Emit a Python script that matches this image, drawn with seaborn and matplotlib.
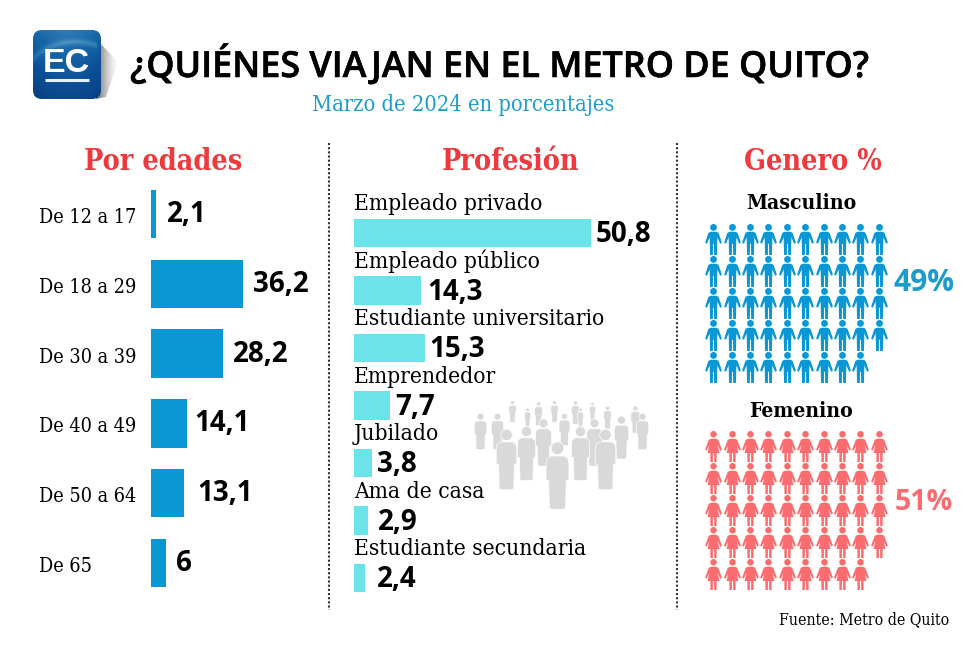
"""
Quienes viajan en el Metro de Quito - El Comercio infographic
"""

import numpy as np
import pandas as pd
import matplotlib
matplotlib.use("Agg")
import matplotlib.pyplot as plt
import matplotlib.patheffects as pe
from matplotlib.colors import LinearSegmentedColormap
from matplotlib.path import Path
from matplotlib.patches import FancyBboxPatch, Polygon
import seaborn as sns

W, H = 970, 645

age_labels = ["De 12 a 17", "De 18 a 29", "De 30 a 39", "De 40 a 49", "De 50 a 64", "De 65"]
age_values = [2.1, 36.2, 28.2, 14.1, 13.1, 6]
age_text = ["2,1", "36,2", "28,2", "14,1", "13,1", "6"]

job_labels = ["Empleado privado", "Empleado público", "Estudiante universitario",
              "Emprendedor", "Jubilado", "Ama de casa", "Estudiante secundaria"]
job_values = [50.8, 14.3, 15.3, 7.7, 3.8, 2.9, 2.4]
job_text = ["50,8", "14,3", "15,3", "7,7", "3,8", "2,9", "2,4"]

icon_rows_men = [10, 10, 10, 10, 9]
icon_rows_women = [10, 10, 10, 10, 9]

BLUE = "#0a97d3"
CYAN = "#6be3e8"
RED = "#ee3a3f"
PINK = "#fb6c70"
SUB = "#1b9ccb"
SLAB = "DejaVu Serif"
SANS = "Open Sans"

# gap between bar end and value, in px
age_gap = [11, 10, 10, 7, 13, 10]
job_gap = [5, 7, 4, 5, 5, 10, 12]


def px_axes(fig, x0, y0, x1, y1):
    """axes from pixel box, y measured from the top"""
    return fig.add_axes([x0 / W, 1 - y1 / H, (x1 - x0) / W, (y1 - y0) / H])


def man_marker():
    head = Path.circle((0, 0.78), 0.22)
    right = [(0.2, 0.5), (0.33, 0.42), (0.54, -0.2), (0.43, -0.28), (0.25, 0.14),
             (0.22, -1), (0.04, -1), (0.03, -0.28)]
    left = [(-x, y) for x, y in right[::-1]]
    return Path.make_compound_path(head, Path(right + left + [right[0]], closed=True))


def woman_marker():
    head = Path.circle((0, 0.79), 0.21)
    right = [(0.16, 0.5), (0.3, 0.44), (0.54, -0.2), (0.44, -0.28), (0.27, 0.1),
             (0.38, -0.42), (0.2, -0.42), (0.2, -1), (0.04, -1), (0.04, -0.42)]
    left = [(-x, y) for x, y in right[::-1]]
    return Path.make_compound_path(head, Path(right + left + [right[0]], closed=True))


def crowd_marker():
    head = Path.circle((0, 0.81), 0.19)
    right = [(0.2, 0.58), (0.31, 0.5), (0.34, 0.35), (0.34, -0.15), (0.26, -0.15), (0.24, -0.98), (0.15, -1), (0, -1)]
    left = [(-x, y) for x, y in right[::-1]]
    return Path.make_compound_path(head, Path(right + left + [right[0]], closed=True))


def clean(ax):
    ax.set_axis_off()
    ax.patch.set_alpha(0)


def waffle(fig, rows, top, marker, color):
    df = pd.DataFrame([(c, r) for r, n in enumerate(rows) for c in range(n)], columns=["col", "row"])
    ax = px_axes(fig, 704, top - 16, 888, top + 32 * 5 - 16)
    sns.scatterplot(data=df, x="col", y="row", marker=marker, s=(31 * 0.72) ** 2, color=color,
                    linewidth=0, ax=ax, legend=False)
    ax.set_xlim(-0.5, 9.5)
    ax.set_ylim(4.5, -0.5)
    clean(ax)


sns.set_theme(style="white")
plt.rcParams["font.family"] = [SANS, "DejaVu Sans"]

fig = plt.figure(figsize=(W / 100, H / 100), dpi=100, facecolor="white")

# overlay in pixel coordinates for logo, rules, crowd
bg = fig.add_axes([0, 0, 1, 1])
clean(bg)

# logo shadow, fades to the right
shadow_cmap = LinearSegmentedColormap.from_list("sh", [(0.4, 0.4, 0.4, 0.95), (0.7, 0.7, 0.7, 0.0)])
shadow = bg.imshow(np.linspace(0, 1, 40)[None, :], extent=(96, 118, 99, 42), cmap=shadow_cmap, aspect="auto", zorder=1)
shadow_clip = Polygon([(96, 50), (101, 44), (118, 62), (106, 97), (96, 99)], closed=True, transform=bg.transData, fc="none", ec="none")
bg.add_patch(shadow_clip)
shadow.set_clip_path(shadow_clip)

# logo square with a lighter arc in the upper half
box = FancyBboxPatch((38, 35), 58, 59, boxstyle="round,pad=5,rounding_size=9", transform=bg.transData, fc="none", ec="none")
bg.add_patch(box)
yy, xx = np.mgrid[0:1:90j, 0:1:90j]
shade = 0.5 - 0.5 * yy + 0.15 * np.sin(xx * np.pi)
shade += 0.25 * np.exp(-((np.hypot(xx - 0.62, (yy - 0.95) * 1.1) - 0.86) / 0.05) ** 2) * (xx < 0.95)
logo_cmap = LinearSegmentedColormap.from_list("logo", ["#093f80", "#0c4f97", "#1767a8", "#3c85bb", "#8fb8d8"])
logo = bg.imshow(shade, extent=(33, 101, 99, 30), cmap=logo_cmap, vmin=0, vmax=1, aspect="auto", zorder=2)
logo.set_clip_path(box)
bg.set_xlim(0, W)
bg.set_ylim(H, 0)
bg.text(66.5, 72, "EC", color="white", fontsize=24.5, fontweight="bold", ha="center", va="baseline", zorder=3,
        family="Liberation Sans")
bg.plot([45, 89], [79.5, 79.5], color="#e6f0f7", lw=2.2, zorder=3, solid_capstyle="butt")

# dotted separators
for x in [329, 677]:
    bg.plot([x, x], [143, 610], color="#333333", lw=1.5, ls=(0, (1, 1)))

# crowd behind the profession bars
crowd = [(516, 60, 125), (595, 64, 135), (642, 60, 125), (705, 60, 130), (755, 64, 120), (884, 76, 158),
         (801, 76, 145), (560, 83, 140), (420, 98, 208), (472, 98, 208), (672, 98, 195), (842, 106, 235),
         (906, 98, 208), (720, 83, 140), (610, 116, 258), (762, 116, 258), (558, 138, 300), (720, 138, 300),
         (499, 146, 328), (795, 146, 328), (651, 183, 385)]
for cx, ct, cb in crowd:
    bg.scatter(340 + cx / 3, 380 + (ct + cb) / 6, marker=crowd_marker(), s=((cb - ct) / 3 * 0.72) ** 2,
               color="#d9d9d9", edgecolors="white", linewidths=0.5)

# titles
title = bg.text(130, 77, "¿QUIÉNES VIAJAN EN EL METRO DE QUITO?", fontsize=25.85, fontweight="semibold", family=SANS,
                color="black", ha="left", va="baseline")
title.set_path_effects([pe.withStroke(linewidth=0.4, foreground="black")])
bg.text(463.5, 105, "Marzo de 2024 en porcentajes", fontsize=15.7, family=SLAB, stretch="condensed", color=SUB,
        ha="center", va="center")
for x, t in [(163, "Por edades"), (511, "Profesión"), (813, "Genero %")]:
    bg.text(x, 170, t, fontsize=20.6, fontweight="bold", family=SLAB, stretch="condensed", color=RED,
            ha="center", va="baseline")

# age bars
ax_age = px_axes(fig, 151, 179, 320, 598)
df_age = pd.DataFrame({"grupo": age_labels, "valor": age_values})
sns.barplot(data=df_age, y="grupo", x="valor", orient="h", color=BLUE, width=0.69, saturation=1,
            edgecolor="none", linewidth=0, ax=ax_age)
ax_age.set_xlim(0, 169 / 2.545)
ax_age.set_ylim(5.5, -0.5)
clean(ax_age)
for i, (lab, val, txt, gap) in enumerate(zip(age_labels, age_values, age_text, age_gap)):
    ax_age.annotate(lab, xy=(0, i), xytext=(-112, -9), textcoords="offset pixels", fontsize=14.2,
                    family=SLAB, stretch="condensed", color="black", va="baseline", ha="left")
    ax_age.annotate(txt, xy=(val, i), xytext=(gap, -8), textcoords="offset pixels", fontsize=20,
                    fontweight="bold", family=SANS, color="black", va="baseline", ha="left")

# profession bars
ax_job = px_axes(fig, 354, 204.25, 670, 606.75)
df_job = pd.DataFrame({"profesion": job_labels, "valor": job_values})
sns.barplot(data=df_job, y="profesion", x="valor", orient="h", color=CYAN, width=0.49, saturation=1,
            edgecolor="none", linewidth=0, ax=ax_job)
ax_job.set_xlim(0, 316 / 4.665)
ax_job.set_ylim(6.5, -0.5)
clean(ax_job)
for i, (lab, val, txt, gap) in enumerate(zip(job_labels, job_values, job_text, job_gap)):
    ax_job.annotate(lab, xy=(0, i), xytext=(0, 23), textcoords="offset pixels", fontsize=16.3,
                    family=SLAB, stretch="condensed", color="black", va="baseline", ha="left")
    ax_job.annotate(txt, xy=(val, i), xytext=(gap, -9), textcoords="offset pixels", fontsize=20,
                    fontweight="bold", family=SANS, color="black", va="baseline", ha="left")

# gender waffles
bg.text(801, 203, "Masculino", fontsize=15.2, fontweight="bold", family=SLAB, stretch="condensed",
        color="black", ha="center", va="center")
bg.text(801, 411, "Femenino", fontsize=15.2, fontweight="bold", family=SLAB, stretch="condensed",
        color="black", ha="center", va="center")
waffle(fig, icon_rows_men, 238.5, man_marker(), BLUE)
waffle(fig, icon_rows_women, 445.5, woman_marker(), PINK)
bg.text(924, 283, "49%", fontsize=21.5, fontweight="bold", family=SANS, color=SUB, ha="center", va="center")
bg.text(924, 502, "51%", fontsize=20.5, fontweight="bold", family=SANS, color=PINK, ha="center", va="center")

bg.text(949, 620, "Fuente: Metro de Quito", fontsize=11.3, family=SLAB, stretch="condensed", color="black",
        ha="right", va="center")

fig.savefig("out.png", dpi=100)
